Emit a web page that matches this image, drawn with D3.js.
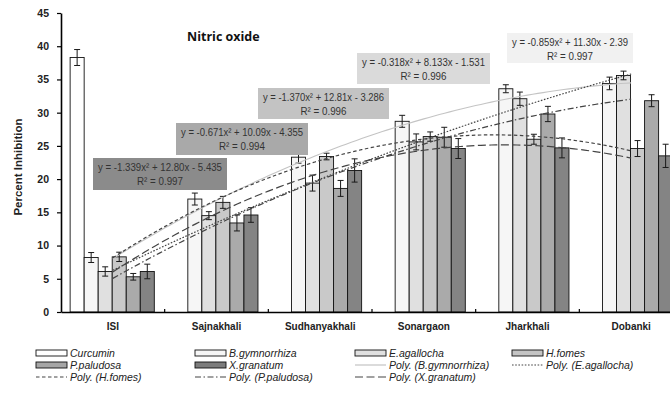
<!DOCTYPE html>
<html><head><meta charset="utf-8">
<script src="https://cdn.jsdelivr.net/npm/d3@7"></script>
<style>body{margin:0;background:#fff} svg{display:block}</style>
</head><body>
<svg id="c" width="670" height="396"></svg>
<script>
// ---------- data ----------
const categories = ["ISI","Sajnakhali","Sudhanyakhali","Sonargaon","Jharkhali","Dobanki"];
const seriesNames = ["Curcumin","B.gymnorrhiza","E.agallocha","H.fomes","P.paludosa","X.granatum"];
const curcumin = [38.3, null, null, null, null, null];
const bgym     = [8.2, 17.0, 23.3, 28.7, 33.6, 34.4];
const eagal    = [6.1, 14.5, 19.4, 25.6, 32.1, 35.6];
const hfomes   = [8.3, 16.5, 23.4, 26.4, 26.0, 24.6];
const ppal     = [5.3, 13.4, 18.6, 26.3, 29.8, 31.8];
const xgran    = [6.1, 14.6, 21.3, 24.6, 24.7, 23.5];
const curcuminErr = [1.2, null, null, null, null, null];
const bgymErr   = [0.75, 0.9, 0.9, 0.9, 0.6, 0.95];
const eagalErr  = [0.7, 0.6, 1.2, 1.2, 1.0, 0.65];
const hfomesErr = [0.7, 0.9, 0.5, 0.7, 0.75, 1.2];
const ppalErr   = [0.5, 1.2, 1.2, 1.5, 1.15, 0.9];
const xgranErr  = [1.1, 1.1, 1.75, 1.5, 1.5, 1.75];
const yTicks = [0,5,10,15,20,25,30,35,40,45];
// polynomial trend-line coefficients as printed on the chart [a, b, c] : y = a x^2 + b x + c
const fitBgym   = [-0.859, 11.30, -2.39];
const fitEagal  = [-0.318, 8.133, -1.531];
const fitHfomes = [-1.370, 12.81, -3.286];
const fitPpal   = [-0.671, 10.09, -4.355];
const fitXgran  = [-1.339, 12.80, -5.435];
const fitEquations = ["y = -0.859x² + 11.30x - 2.39","y = -0.318x² + 8.133x - 1.531","y = -1.370x² + 12.81x - 3.286","y = -0.671x² + 10.09x - 4.355","y = -1.339x² + 12.80x - 5.435"];
const fitR2 = ["R² = 0.997","R² = 0.996","R² = 0.996","R² = 0.994","R² = 0.997"];
const trendNames = ["Poly. (B.gymnorrhiza)","Poly. (E.agallocha)","Poly. (H.fomes)","Poly. (P.paludosa)","Poly. (X.granatum)"];

// ---------- styles / layout ----------
const barFills = ["#ffffff","#f6f6f6","#e0e0e0","#c9c9c9","#aaaaaa","#848484"];
const legendFills = ["#ffffff","#f6f6f6","#e0e0e0","#c4c4c4","#a6a6a6","#7c7c7c"];
const boxFills = ["#f1f1f1","#dadada","#c3c3c3","#a9a9a9","#8b8b8b"];
const trendStroke = ["#c4c4c4","#444","#444","#444","#444"];
const trendDash = [null,"1.6,1.6","3.5,2.5","6,2.5,1.5,2.5","8,3.5"];
const boxLayout = [ // left, top, width, height (px)
  [507,33,126,30],[357,53,133,31],[258,88,131,31],[176,123,132,32],[93,158,134,32]
];

const valueSets = [curcumin,bgym,eagal,hfomes,ppal,xgran];
const errSets = [curcuminErr,bgymErr,eagalErr,hfomesErr,ppalErr,xgranErr];
const fits = [fitBgym,fitEagal,fitHfomes,fitPpal,fitXgran];

const svg = d3.select("#c");
const plotL = 61, plotR = 683, plotT = 13, plotB = 312;

const x0 = d3.scaleBand().domain(categories).range([plotL, plotR]);
const bw = x0.bandwidth();
const x1 = d3.scaleBand().domain(seriesNames).range([bw*0.088, bw*0.9]);
const y = d3.scaleLinear().domain([0,45]).range([plotB, plotT]);
const xt = d3.scaleLinear().domain([1,6]).range([x0(categories[0])+bw/2, x0(categories[5])+bw/2]);

// bars
const barData = [];
seriesNames.forEach((s,i)=>categories.forEach((c,j)=>{
  const v = valueSets[i][j];
  if (v!=null) barData.push({s,i,c,v,e:errSets[i][j]});
}));
svg.append("g").selectAll("rect").data(barData).join("rect")
  .attr("x",d=>x0(d.c)+x1(d.s)).attr("y",d=>y(d.v))
  .attr("width",x1.bandwidth()).attr("height",d=>plotB-y(d.v))
  .attr("fill",d=>barFills[d.i]).attr("stroke","#111").attr("stroke-width",0.9);

// error bars
const eg = svg.append("g").attr("stroke","#1a1a1a").attr("stroke-width",1);
barData.forEach(d=>{
  const cx = x0(d.c)+x1(d.s)+x1.bandwidth()/2;
  eg.append("line").attr("x1",cx).attr("x2",cx).attr("y1",y(d.v-d.e)).attr("y2",y(d.v+d.e));
  [d.v-d.e,d.v+d.e].forEach(t=>eg.append("line").attr("x1",cx-3).attr("x2",cx+3).attr("y1",y(t)).attr("y2",y(t)));
});

// trend lines
const xs = d3.range(1,6.0001,0.05);
const line = d3.line().x(p=>xt(p[0])).y(p=>y(p[1])).curve(d3.curveLinear);
fits.forEach((f,k)=>{
  const pts = xs.map(x=>[x, f[0]*x*x + f[1]*x + f[2]]);
  const p = svg.append("path").attr("d",line(pts)).attr("fill","none")
    .attr("stroke",trendStroke[k]).attr("stroke-width",k===0?1.1:1.2);
  if (trendDash[k]) p.attr("stroke-dasharray",trendDash[k]);
});

// axes
const ya = svg.append("g").attr("transform",`translate(${plotL},0)`)
  .call(d3.axisLeft(y).tickValues(yTicks).tickSize(4).tickSizeOuter(0).tickPadding(8));
ya.select(".domain").attr("stroke","#000").attr("stroke-width",1.6);
ya.selectAll(".tick line").attr("stroke","#000").attr("stroke-width",1.2);
ya.selectAll("text").attr("font-family","'Liberation Sans',Arial,sans-serif")
  .attr("font-weight","bold").attr("font-size",10.5).attr("fill","#222");

const xa = svg.append("g").attr("transform",`translate(0,${plotB})`)
  .call(d3.axisBottom(x0).tickSize(0).tickSizeOuter(0).tickPadding(11));
xa.select(".domain").attr("stroke","#000").attr("stroke-width",1.6);
xa.selectAll("text").attr("font-family","'Liberation Sans',Arial,sans-serif")
  .attr("font-weight","bold").attr("font-size",10).attr("fill","#222");
categories.slice(1).forEach(c=>{
  svg.append("line").attr("x1",x0(c)).attr("x2",x0(c)).attr("y1",plotB).attr("y2",plotB-3)
    .attr("stroke","#000").attr("stroke-width",1.2);
});

// equation boxes
boxLayout.forEach((b,k)=>{
  const g = svg.append("g");
  g.append("rect").attr("x",b[0]).attr("y",b[1]).attr("width",b[2]).attr("height",b[3]).attr("fill",boxFills[k]);
  const cx = b[0]+b[2]/2;
  g.append("text").attr("x",cx).attr("y",b[1]+13).text(fitEquations[k])
    .attr("textLength",b[2]-10).attr("lengthAdjust","spacingAndGlyphs");
  g.append("text").attr("x",cx).attr("y",b[1]+27).text(fitR2[k])
    .attr("textLength",46).attr("lengthAdjust","spacingAndGlyphs");
  g.selectAll("text").attr("text-anchor","middle")
    .attr("font-family","'Liberation Sans',Arial,sans-serif")
    .attr("font-size",11.5).attr("fill","#333");
});

// title
svg.append("text").attr("x",187).attr("y",41).text("Nitric oxide")
  .attr("font-family","'Open Sans',sans-serif").attr("font-weight","bold").attr("font-size",12.5).attr("fill","#111");

// y label
svg.append("text").attr("transform","translate(22,167) rotate(-90)").attr("text-anchor","middle")
  .text("Percent Inhibition").attr("font-family","'Liberation Sans',Arial,sans-serif")
  .attr("font-weight","bold").attr("font-size",11.5).attr("fill","#222");

// legend
const legendCols = [36,195,355,512];
const legendRows = [353,365,377];
const legendItems = [
  {t:"bar",i:0},{t:"bar",i:1},{t:"bar",i:2},{t:"bar",i:3},
  {t:"bar",i:4},{t:"bar",i:5},{t:"line",k:0},{t:"line",k:1},
  {t:"line",k:2},{t:"line",k:3},{t:"line",k:4}
];
const lg = svg.append("g");
legendItems.forEach((it,n)=>{
  const lx = legendCols[n%4], ly = legendRows[Math.floor(n/4)];
  if (it.t==="bar"){
    lg.append("rect").attr("x",lx).attr("y",ly-3).attr("width",31).attr("height",6)
      .attr("fill",legendFills[it.i]).attr("stroke","#111").attr("stroke-width",0.9);
  } else {
    const l = lg.append("line").attr("x1",lx).attr("x2",lx+31).attr("y1",ly).attr("y2",ly)
      .attr("stroke",trendStroke[it.k]).attr("stroke-width",1.2);
    if (trendDash[it.k]) l.attr("stroke-dasharray",trendDash[it.k]);
  }
  lg.append("text").attr("x",lx+34).attr("y",ly+4)
    .text(it.t==="bar"?seriesNames[it.i]:trendNames[it.k])
    .attr("font-family","'Liberation Sans',Arial,sans-serif").attr("font-style","italic")
    .attr("font-size",10.5).attr("fill","#222");
});
</script>
</body></html>
